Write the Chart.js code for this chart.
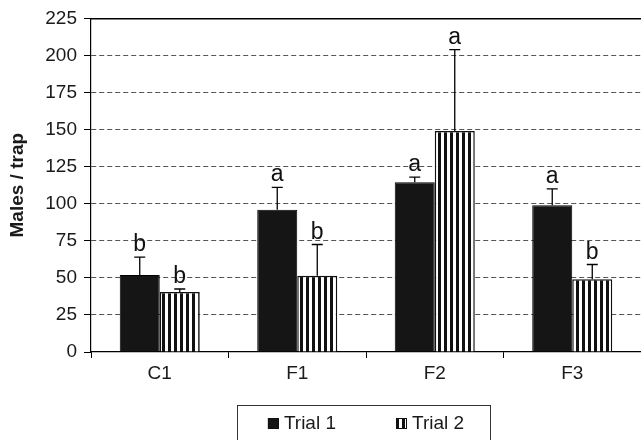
<!DOCTYPE html>
<html>
<head>
<meta charset="utf-8">
<style>
  html, body { margin: 0; padding: 0; background: #fff; }
  canvas { display: block; }
</style>
<script src="https://cdn.jsdelivr.net/npm/chart.js@4/dist/chart.umd.min.js"></script>
</head>
<body>
<canvas id="chart" width="641" height="440"></canvas>
<script>
// Trap catches per treatment, two trials
const categories = ['C1', 'F1', 'F2', 'F3'];
const seriesNames = ['Trial 1', 'Trial 2'];
const trial1 = [52, 96, 114.5, 99];
const trial1Err = [12, 15, 3.5, 11];
const trial1Letters = ['b', 'a', 'a', 'a'];
const trial2 = [40.5, 51.5, 149, 49];
const trial2Err = [2, 21, 55, 10];
const trial2Letters = ['b', 'b', 'a', 'b'];
const yTicks = [0, 25, 50, 75, 100, 125, 150, 175, 200, 225];

const FONT = "'Liberation Sans', Arial, Helvetica, sans-serif";

// Vertical stripe fill for the second trial
function stripePattern() {
  const c = document.createElement('canvas');
  c.width = 6; c.height = 6;
  const g = c.getContext('2d');
  g.fillStyle = '#ffffff';
  g.fillRect(0, 0, 6, 6);
  g.fillStyle = '#111111';
  g.fillRect(0, 0, 3, 6);
  return g.createPattern(c, 'repeat');
}
const stripes = stripePattern();

const errors = [trial1Err, trial2Err];
const letters = [trial1Letters, trial2Letters];

// Upper error whiskers with caps, and significance letters above them
const errorBarPlugin = {
  id: 'errorBars',
  afterDatasetsDraw(chart) {
    const ctx = chart.ctx;
    const y = chart.scales.y;
    ctx.save();
    chart.data.datasets.forEach((ds, di) => {
      const meta = chart.getDatasetMeta(di);
      meta.data.forEach((bar, i) => {
        const v = ds.data[i];
        const top = y.getPixelForValue(v + errors[di][i]);
        const base = y.getPixelForValue(v);
        ctx.strokeStyle = '#000';
        ctx.lineWidth = 1.3;
        ctx.beginPath();
        ctx.moveTo(bar.x, base);
        ctx.lineTo(bar.x, top);
        ctx.moveTo(bar.x - 5.5, top);
        ctx.lineTo(bar.x + 5.5, top);
        ctx.stroke();
        ctx.fillStyle = '#111';
        ctx.font = '23px ' + FONT;
        ctx.textAlign = 'center';
        ctx.textBaseline = 'alphabetic';
        ctx.fillText(letters[di][i], bar.x, top - 6);
      });
    });
    ctx.restore();
  }
};

// Boxed legend below the axis
const boxedLegendPlugin = {
  id: 'boxedLegend',
  afterDraw(chart) {
    const ctx = chart.ctx;
    const area = chart.chartArea;
    ctx.save();
    ctx.font = '19px ' + FONT;
    const icon = 11, gap = 5, spacing = 60;
    const items = chart.data.datasets.map(ds => ({
      text: ds.label, fill: ds.backgroundColor, width: icon + gap + ctx.measureText(ds.label).width
    }));
    const groupW = items.reduce((s, it) => s + it.width, 0) + spacing * (items.length - 1);
    const cx = (area.left + area.right) / 2;
    let x = cx - groupW / 2;
    const cy = 423;
    ctx.strokeStyle = '#333';
    ctx.lineWidth = 1;
    ctx.strokeRect(Math.round(x - 31) + 0.5, 405.5, Math.round(groupW + 57), 40);
    items.forEach(it => {
      ctx.fillStyle = it.fill;
      ctx.fillRect(x, cy - 5, icon, icon);
      ctx.strokeStyle = '#111';
      ctx.lineWidth = 1;
      ctx.strokeRect(x + 0.5, cy - 4.5, icon - 1, icon - 1);
      ctx.fillStyle = '#1a1a1a';
      ctx.textAlign = 'left';
      ctx.textBaseline = 'middle';
      ctx.fillText(it.text, x + icon + gap, cy + 1);
      x += it.width + spacing;
    });
    ctx.restore();
  }
};

Chart.defaults.font.family = FONT;
Chart.defaults.color = '#1a1a1a';

new Chart(document.getElementById('chart'), {
  type: 'bar',
  data: {
    labels: categories,
    datasets: [
      {
        label: seriesNames[0],
        data: trial1,
        backgroundColor: '#151515',
        borderColor: '#000',
        borderWidth: 1,
        borderSkipped: 'start'
      },
      {
        label: seriesNames[1],
        data: trial2,
        backgroundColor: stripes,
        borderColor: '#111',
        borderWidth: 1.5,
        borderSkipped: 'start'
      }
    ]
  },
  options: {
    responsive: false,
    animation: false,
    layout: { padding: { top: 18, left: 0, right: 0, bottom: 0 } },
    datasets: { bar: { categoryPercentage: 0.582, barPercentage: 1.0 } },
    plugins: {
      legend: { display: false },
      tooltip: { enabled: false }
    },
    scales: {
      x: {
        position: 'bottom',
        offset: true,
        grid: {
          offset: true,
          drawOnChartArea: false,
          drawTicks: true,
          tickLength: 6,
          tickColor: '#000',
          tickWidth: 1
        },
        border: { display: true, color: '#000', width: 1.2 },
        ticks: { font: { size: 19 }, padding: 4, color: '#1a1a1a' },
        afterFit(scale) { scale.height = 88; }
      },
      xTop: {
        type: 'category',
        position: 'top',
        grid: { display: false, drawTicks: false },
        ticks: { display: false },
        border: { display: true, color: '#000', width: 1.5 },
        afterFit(scale) { scale.height = 0; }
      },
      y: {
        min: 0,
        max: 225,
        afterBuildTicks(scale) { scale.ticks = yTicks.map(v => ({ value: v })); },
        grid: {
          // dashed lines only between the solid bottom axis and top frame line
          color: (c) => (c.tick && (c.tick.value === 0 || c.tick.value === 225)) ? 'rgba(0,0,0,0)' : '#555',
          lineWidth: 1,
          drawTicks: true,
          tickLength: 7,
          tickColor: '#000',
          tickWidth: 1,
          tickBorderDash: []
        },
        border: { display: true, color: '#000', width: 1.2, dash: [5, 3] },
        ticks: { font: { size: 19 }, padding: 7, color: '#1a1a1a' },
        title: {
          display: true,
          text: 'Males / trap',
          font: { size: 19, weight: 'bold' },
          color: '#1a1a1a',
          padding: { top: 6, bottom: 0 }
        },
        afterFit(scale) { scale.width = 91; }
      }
    }
  },
  plugins: [errorBarPlugin, boxedLegendPlugin]
});
</script>
</body>
</html>
